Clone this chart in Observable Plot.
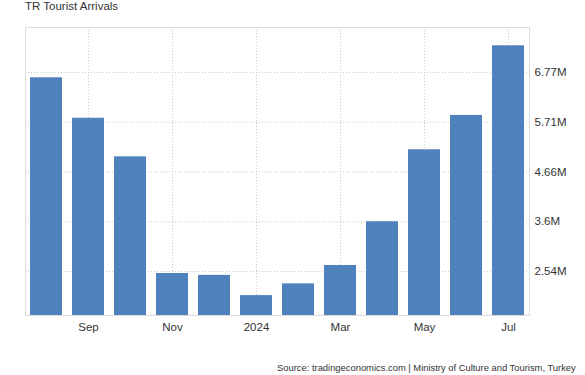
<!DOCTYPE html>
<html><head><meta charset="utf-8">
<script src="https://cdn.jsdelivr.net/npm/d3@7"></script>
<script src="https://cdn.jsdelivr.net/npm/@observablehq/plot@0.6"></script>
<style>
html,body{margin:0;padding:0;background:#fff}
body{font-family:"Liberation Sans",Arial,sans-serif;width:585px;height:375px;overflow:hidden;position:relative}
#title{position:absolute;left:25px;top:-1px;font-size:11.5px;line-height:14px;color:#333;white-space:nowrap}
#chart{position:absolute;left:0;top:0}
#src{position:absolute;left:277px;top:362px;font-size:9.4px;line-height:11px;color:#333;white-space:nowrap}
</style></head><body>
<div id="chart"></div>
<div id="title">TR Tourist Arrivals</div>
<div id="src">Source: tradingeconomics.com | Ministry of Culture and Tourism, Turkey</div>
<script>
const months = ["2023-08","2023-09","2023-10","2023-11","2023-12","2024-01","2024-02","2024-03","2024-04","2024-05","2024-06","2024-07"];
const arrivals = [6660000, 5800000, 4980000, 2500000, 2460000, 2030000, 2280000, 2670000, 3600000, 5130000, 5860000, 7340000];
const xTickMonths = ["2023-09","2023-11","2024-01","2024-03","2024-05","2024-07"];
const xTickLabels = ["Sep","Nov","2024","Mar","May","Jul"];
const yTickValues = [2542500, 3600000, 4657500, 5715000, 6772500];
const yTickLabels = ["2.54M","3.6M","4.66M","5.71M","6.77M"];
const yDomain = [1607000, 7729000];

const data = months.map((m, i) => ({month: m, value: arrivals[i]}));

const chart = Plot.plot({
  width: 585,
  height: 375,
  marginTop: 27,
  marginBottom: 60,
  marginLeft: 25,
  marginRight: 56,
  style: {fontFamily: "'Liberation Sans', Arial, sans-serif", fontSize: "11px", color: "#333", background: "#fff"},
  x: {domain: months, padding: 0.24, paddingOuter: 0.11, label: null},
  y: {domain: yDomain, label: null},
  marks: [
    Plot.gridY(yTickValues, {stroke: "#c8c8c8", strokeOpacity: 1, strokeDasharray: "1,2"}),
    Plot.gridX(xTickMonths, {stroke: "#c8c8c8", strokeOpacity: 1, strokeDasharray: "1,2"}),
    Plot.frame({stroke: "#dcdcdc"}),
    Plot.barY(data, {x: "month", y1: yDomain[0], y2: "value", fill: "#4f81bd"}),
    Plot.axisX({ticks: xTickMonths, tickFormat: d => xTickLabels[xTickMonths.indexOf(d)], tickSize: 0, tickPadding: 7, fontSize: 11.5, fill: "#333"}),
    Plot.axisY({anchor: "right", ticks: yTickValues, tickFormat: d => yTickLabels[yTickValues.indexOf(d)], tickSize: 0, tickPadding: 5, fontSize: 11.5, fill: "#333"})
  ]
});
document.getElementById("chart").appendChild(chart);
</script>
</body></html>
